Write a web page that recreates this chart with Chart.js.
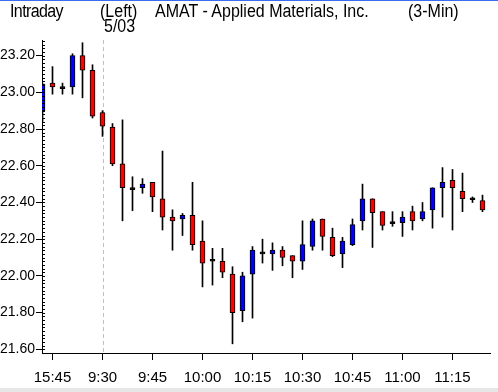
<!DOCTYPE html>
<html>
<head>
<meta charset="utf-8">
<script src="https://cdn.jsdelivr.net/npm/chart.js@4.4.1/dist/chart.umd.min.js"></script>
<style>
  body { margin: 0; background: #fff; }
  #wrap { position: relative; width: 498px; height: 392px; overflow: hidden; border-top: 1px solid #3a6df0; box-sizing: border-box; }
  #c { position: absolute; left: 0; top: -1px; }
  .t { position: absolute; font-family: 'Liberation Sans', Arial, sans-serif; font-size: 16px; line-height: 1; color: #000; white-space: pre; transform: scale(1, 1.1); transform-origin: 0 0; }
  #scroll { position: absolute; left: 0; bottom: 0; width: 498px; height: 4px; background: #e6e6e6; }
</style>
</head>
<body>
<div id="wrap">
  <canvas id="c" width="498" height="392"></canvas>
  <div class="t" style="left:10px;top:2px;letter-spacing:-0.6px">Intraday</div>
  <div class="t" style="left:100px;top:2px">(Left)</div>
  <div class="t" style="left:155px;top:2px">AMAT - Applied Materials, Inc.</div>
  <div class="t" style="left:408px;top:2px">(3-Min)</div>
  <div class="t" style="left:104px;top:17px">5/03</div>
  <div id="scroll"></div>
</div>
<script>
// 3-min candles, 15:42 (prev day) .. 11:24
var times = ["15:42", "15:45", "15:48", "15:51", "15:54", "15:57",
    "9:30", "9:33", "9:36", "9:39", "9:42", "9:45", "9:48", "9:51", "9:54", "9:57",
    "10:00", "10:03", "10:06", "10:09", "10:12", "10:15", "10:18", "10:21", "10:24", "10:27",
    "10:30", "10:33", "10:36", "10:39", "10:42", "10:45", "10:48", "10:51", "10:54", "10:57",
    "11:00", "11:03", "11:06", "11:09", "11:12", "11:15", "11:18", "11:21", "11:24"];
var open  = [22.90, 23.05, 23.02, 23.03, 23.20, 23.12,
    22.89, 22.81, 22.61, 22.47, 22.48, 22.51, 22.42, 22.32, 22.31, 22.33,
    22.19, 22.08, 22.08, 22.01, 21.81, 22.01, 22.12, 22.12, 22.14, 22.11,
    22.08, 22.16, 22.31, 22.21, 22.12, 22.17, 22.30, 22.42, 22.35, 22.285,
    22.29, 22.35, 22.31, 22.36, 22.48, 22.52, 22.46, 22.415, 22.41];
var high  = [23.05, 23.14, 23.05, 23.21, 23.27, 23.15,
    22.90, 22.83, 22.85, 22.54, 22.53, 22.51, 22.68, 22.36, 22.34, 22.51,
    22.30, 22.15, 22.15, 22.05, 22.02, 22.16, 22.20, 22.18, 22.16, 22.11,
    22.30, 22.31, 22.31, 22.26, 22.21, 22.31, 22.50, 22.42, 22.35, 22.35,
    22.35, 22.38, 22.40, 22.48, 22.59, 22.58, 22.56, 22.43, 22.44];
var low   = [22.84, 22.99, 22.99, 22.99, 22.97, 22.86,
    22.76, 22.60, 22.30, 22.355, 22.45, 22.35, 22.25, 22.14, 22.22, 22.14,
    21.94, 21.95, 21.99, 21.63, 21.75, 21.77, 22.07, 22.03, 22.055, 21.99,
    22.035, 22.14, 22.14, 22.105, 22.045, 22.165, 22.25, 22.155, 22.25, 22.27,
    22.215, 22.25, 22.30, 22.26, 22.32, 22.25, 22.35, 22.40, 22.35];
var close = [23.045, 23.03, 23.02, 23.20, 23.12, 22.87,
    22.815, 22.61, 22.48, 22.47, 22.50, 22.43, 22.32, 22.30, 22.33, 22.17,
    22.07, 22.08, 22.02, 21.80, 22.00, 22.14, 22.12, 22.14, 22.10, 22.08,
    22.17, 22.30, 22.215, 22.11, 22.19, 22.28, 22.42, 22.345, 22.275, 22.285,
    22.32, 22.30, 22.35, 22.48, 22.51, 22.48, 22.42, 22.415, 22.36];
var xTickIdx = [1, 6, 11, 16, 21, 26, 31, 36, 41];
var yTicks = [21.60, 21.80, 22.00, 22.20, 22.40, 22.60, 22.80, 23.00, 23.20];
var sessionIdx = 6;

var bodies = [], wicks = [], bodyColors = [];
for (var i = 0; i < times.length; i++) {
    bodies.push({ x: i, y: [open[i], close[i]] });
    wicks.push({ x: i, y: [low[i], high[i]] });
    bodyColors.push(close[i] > open[i] ? "#0000ff" : (close[i] < open[i] ? "#ff0000" : "#000000"));
}

var extras = {
    id: "extras",
    beforeDatasetsDraw: function (chart) {
        var ctx = chart.ctx, a = chart.chartArea;
        var x = Math.round(chart.scales.x.getPixelForValue(sessionIdx)) + 0.5;
        ctx.save();
        ctx.strokeStyle = "#c0c0c0";
        ctx.lineWidth = 1;
        ctx.setLineDash([4, 3]);
        ctx.beginPath();
        ctx.moveTo(x, a.top);
        ctx.lineTo(x, a.bottom);
        ctx.stroke();
        ctx.restore();
    },
    afterDraw: function (chart) {
        // small ticks every 0.02 on the inner side of the price axis
        var ctx = chart.ctx, a = chart.chartArea, ys = chart.scales.y;
        ctx.save();
        ctx.strokeStyle = "#000";
        ctx.lineWidth = 1;
        ctx.beginPath();
        for (var k = 0; k <= 85; k++) {
            var v = 21.60 + k * 0.02;
            var y = Math.round(ys.getPixelForValue(v)) + 0.5;
            if (y < a.top) break;
            ctx.moveTo(a.left, y);
            ctx.lineTo(a.left + 3, y);
        }
        ctx.stroke();
        ctx.restore();
    }
};

Chart.defaults.font.family = "'Liberation Sans', Arial, sans-serif";
Chart.defaults.color = "#000";

new Chart(document.getElementById("c").getContext("2d"), {
    type: "bar",
    data: {
        datasets: [
            {
                data: bodies,
                backgroundColor: bodyColors,
                borderColor: "#000",
                borderWidth: 1,
                borderSkipped: false,
                barThickness: 5,
                minBarLength: 2,
                grouped: false,
                clip: 0
            },
            {
                data: wicks,
                backgroundColor: "#000",
                borderWidth: 0,
                barThickness: 1,
                grouped: false,
                clip: 0
            }
        ]
    },
    options: {
        responsive: false,
        animation: false,
        layout: { padding: { top: 40, right: 8, left: 0, bottom: 0 } },
        plugins: { legend: { display: false }, tooltip: { enabled: false } },
        scales: {
            x: {
                type: "linear",
                offset: false,
                min: -0.05,
                max: 44.75,
                afterBuildTicks: function (s) { s.ticks = xTickIdx.map(function (v) { return { value: v }; }); },
                afterFit: function (s) { s.height = 39; },
                ticks: {
                    font: { size: 15 },
                    padding: 9,
                    maxRotation: 0,
                    autoSkip: false,
                    callback: function (v) { return times[v]; }
                },
                grid: { offset: false, drawOnChartArea: false, drawTicks: true, tickLength: 7, color: "#000" },
                border: { display: true, color: "#000", width: 1 }
            },
            y: {
                min: 21.58,
                max: 23.285,
                afterBuildTicks: function (s) { s.ticks = yTicks.map(function (v) { return { value: v }; }); },
                afterFit: function (s) { s.width = 42; },
                ticks: {
                    font: { size: 14 },
                    padding: 1,
                    callback: function (v) { return v.toFixed(2); }
                },
                grid: { drawOnChartArea: false, drawTicks: true, tickLength: 6, color: "#000" },
                border: { display: true, color: "#000", width: 1 }
            }
        }
    },
    plugins: [extras]
});
</script>
</body>
</html>
